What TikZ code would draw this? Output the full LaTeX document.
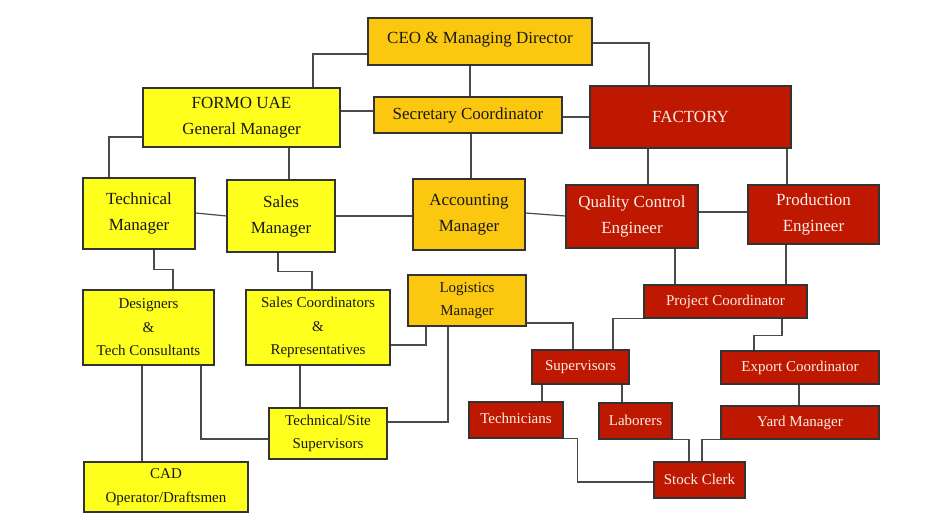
\documentclass[tikz,border=0pt]{standalone}
\usepackage{fontspec}
\setmainfont{Liberation Serif}
\usepackage{xcolor}
\definecolor{boxyellow}{HTML}{FFFF1E}
\definecolor{boxgold}{HTML}{FCC80F}
\definecolor{boxred}{HTML}{BE1900}
\definecolor{redtext}{HTML}{FBEDE8}
\definecolor{linegray}{HTML}{4A4A4A}
\tikzset{
  unit/.style={draw=black!80, line width=1.1pt, inner sep=0pt, align=center},
  ybox/.style={unit, fill=boxyellow, text=black!90},
  gbox/.style={unit, fill=boxgold, text=black!90},
  rbox/.style={unit, fill=boxred, text=redtext},
  big/.style={font=\fontsize{17}{26}\selectfont},
  small/.style={font=\fontsize{15}{23.5}\selectfont},
  sz/.style 2 args={minimum width=#1pt, minimum height=#2pt},
  link/.style={draw=linegray, line width=1.2pt}
}

\begin{document}
\begin{tikzpicture}[x=1pt, y=-1pt]
  \useasboundingbox[fill=white] (0,0) rectangle (936,522);

  % top level
  \node[gbox, big, sz={224}{47}] (ceo) at (480,41.5) {\raisebox{7pt}{CEO \& Managing Director}};
  \node[gbox, big, sz={188}{36}] (sec) at (468,115) {\raisebox{3pt}{Secretary Coordinator}};
  \node[rbox, big, sz={201}{62}] (fac) at (690.5,117) {FACTORY};
  \node[ybox, big, sz={197}{59}] (formo) at (241.5,117.5) {FORMO UAE\\General Manager};

  % managers
  \node[ybox, big, sz={112}{71}] (techm) at (139,213.5) {Technical\\Manager};
  \node[ybox, big, sz={108}{72}] (salesm) at (281,216) {Sales\\Manager};
  \node[gbox, big, sz={112}{71}] (acc) at (469,214.5) {Accounting\\Manager};
  \node[rbox, big, sz={132}{63}] (qc) at (632,216.5) {Quality Control\\Engineer};
  \node[rbox, big, sz={131}{59}] (prod) at (813.5,214.5) {Production\\Engineer};

  % office staff
  \node[ybox, small, sz={131}{75}] (des) at (148.5,327.5) {Designers\\\&\\Tech Consultants};
  \node[ybox, small, sz={144}{75}] (scr) at (318,327.5) {Sales Coordinators\\\&\\Representatives};
  \node[gbox, small, sz={118}{51}] (log) at (467,300.5) {Logistics\\Manager};
  \node[ybox, small, sz={118}{51}] (site) at (328,433.5) {Technical/Site\\Supervisors};
  \node[ybox, small, sz={164}{50}] (cad) at (166,487) {CAD\\Operator/Draftsmen};

  % factory staff
  \node[rbox, small, sz={163}{33}] (pc) at (725.5,301.5) {\raisebox{3pt}{Project Coordinator}};
  \node[rbox, small, sz={97}{34}] (sup) at (580.5,367) {\raisebox{2pt}{Supervisors}};
  \node[rbox, small, sz={94}{36}] (tech) at (516,420) {\raisebox{3pt}{Technicians}};
  \node[rbox, small, sz={73}{36}] (lab) at (635.5,421) {\raisebox{2pt}{Laborers}};
  \node[rbox, small, sz={158}{33}] (exp) at (800,367.5) {\raisebox{2pt}{Export Coordinator}};
  \node[rbox, small, sz={158}{33}] (yard) at (800,422.5) {\raisebox{2pt}{Yard Manager}};
  \node[rbox, small, sz={91}{36}] (stock) at (699.5,480) {\raisebox{2pt}{Stock Clerk}};

  % connectors, upper part
  \draw[link] (formo.north -| 313,0) |- (ceo.west |- 0,54);
  \draw[link] (ceo.east |- 0,43) -| (fac.north -| 649,0);
  \draw[link] (ceo.south -| 470,0) -- (sec.north -| 470,0);
  \draw[link] (formo.east |- 0,111) -- (sec.west |- 0,111);
  \draw[link] (sec.east |- 0,117) -- (fac.west |- 0,117);
  \draw[link] (sec.south -| 471,0) -- (acc.north -| 471,0);
  \draw[link] (formo.west |- 0,137) -| (techm.north -| 109,0);
  \draw[link] (formo.south -| 289,0) -- (salesm.north -| 289,0);
  \draw[link] (techm.east |- 0,213) -- (salesm.west |- 0,216);
  \draw[link] (salesm.east |- 0,216) -- (acc.west |- 0,216);
  \draw[link] (acc.east |- 0,213) -- (qc.west |- 0,216);
  \draw[link] (qc.east |- 0,212) -- (prod.west |- 0,212);
  \draw[link] (fac.south -| 648,0) -- (qc.north -| 648,0);
  \draw[link] (fac.south -| 787,0) -- (prod.north -| 787,0);
  \draw[link] (qc.south -| 675,0) -- (pc.north -| 675,0);
  \draw[link] (prod.south -| 786,0) -- (pc.north -| 786,0);

  % connectors, office side
  \draw[link] (techm.south -| 154,0) -- ++(0,20) -| (des.north -| 173,0);
  \draw[link] (salesm.south -| 278,0) -- ++(0,19) -| (scr.north -| 312,0);
  \draw[link] (des.south -| 142,0) -- (cad.north -| 142,0);
  \draw[link] (des.south -| 201,0) |- (site.west |- 0,439);
  \draw[link] (scr.south -| 300,0) -- (site.north -| 300,0);
  \draw[link] (scr.east |- 0,345) -| (log.south -| 426,0);
  \draw[link] (log.south -| 448,0) |- (site.east |- 0,422);
  \draw[link] (log.east |- 0,323) -| (sup.north -| 573,0);

  % connectors, factory side
  \draw[link] (pc.south west) -| (sup.north -| 613,0);
  \draw[link] (pc.south -| 782,0) -- ++(0,17) -| (exp.north -| 754,0);
  \draw[link] (exp.south -| 799,0) -- (yard.north -| 799,0);
  \draw[link] (sup.south -| 542,0) -- (tech.north -| 542,0);
  \draw[link] (sup.south -| 622,0) -- (lab.north -| 622,0);
  \draw[link] (tech.south east) -- ++(14,0) |- (stock.west |- 0,482);
  \draw[link] (lab.south east) -| (stock.north -| 689,0);
  \draw[link] (yard.south west) -| (stock.north -| 702,0);
\end{tikzpicture}
\end{document}
